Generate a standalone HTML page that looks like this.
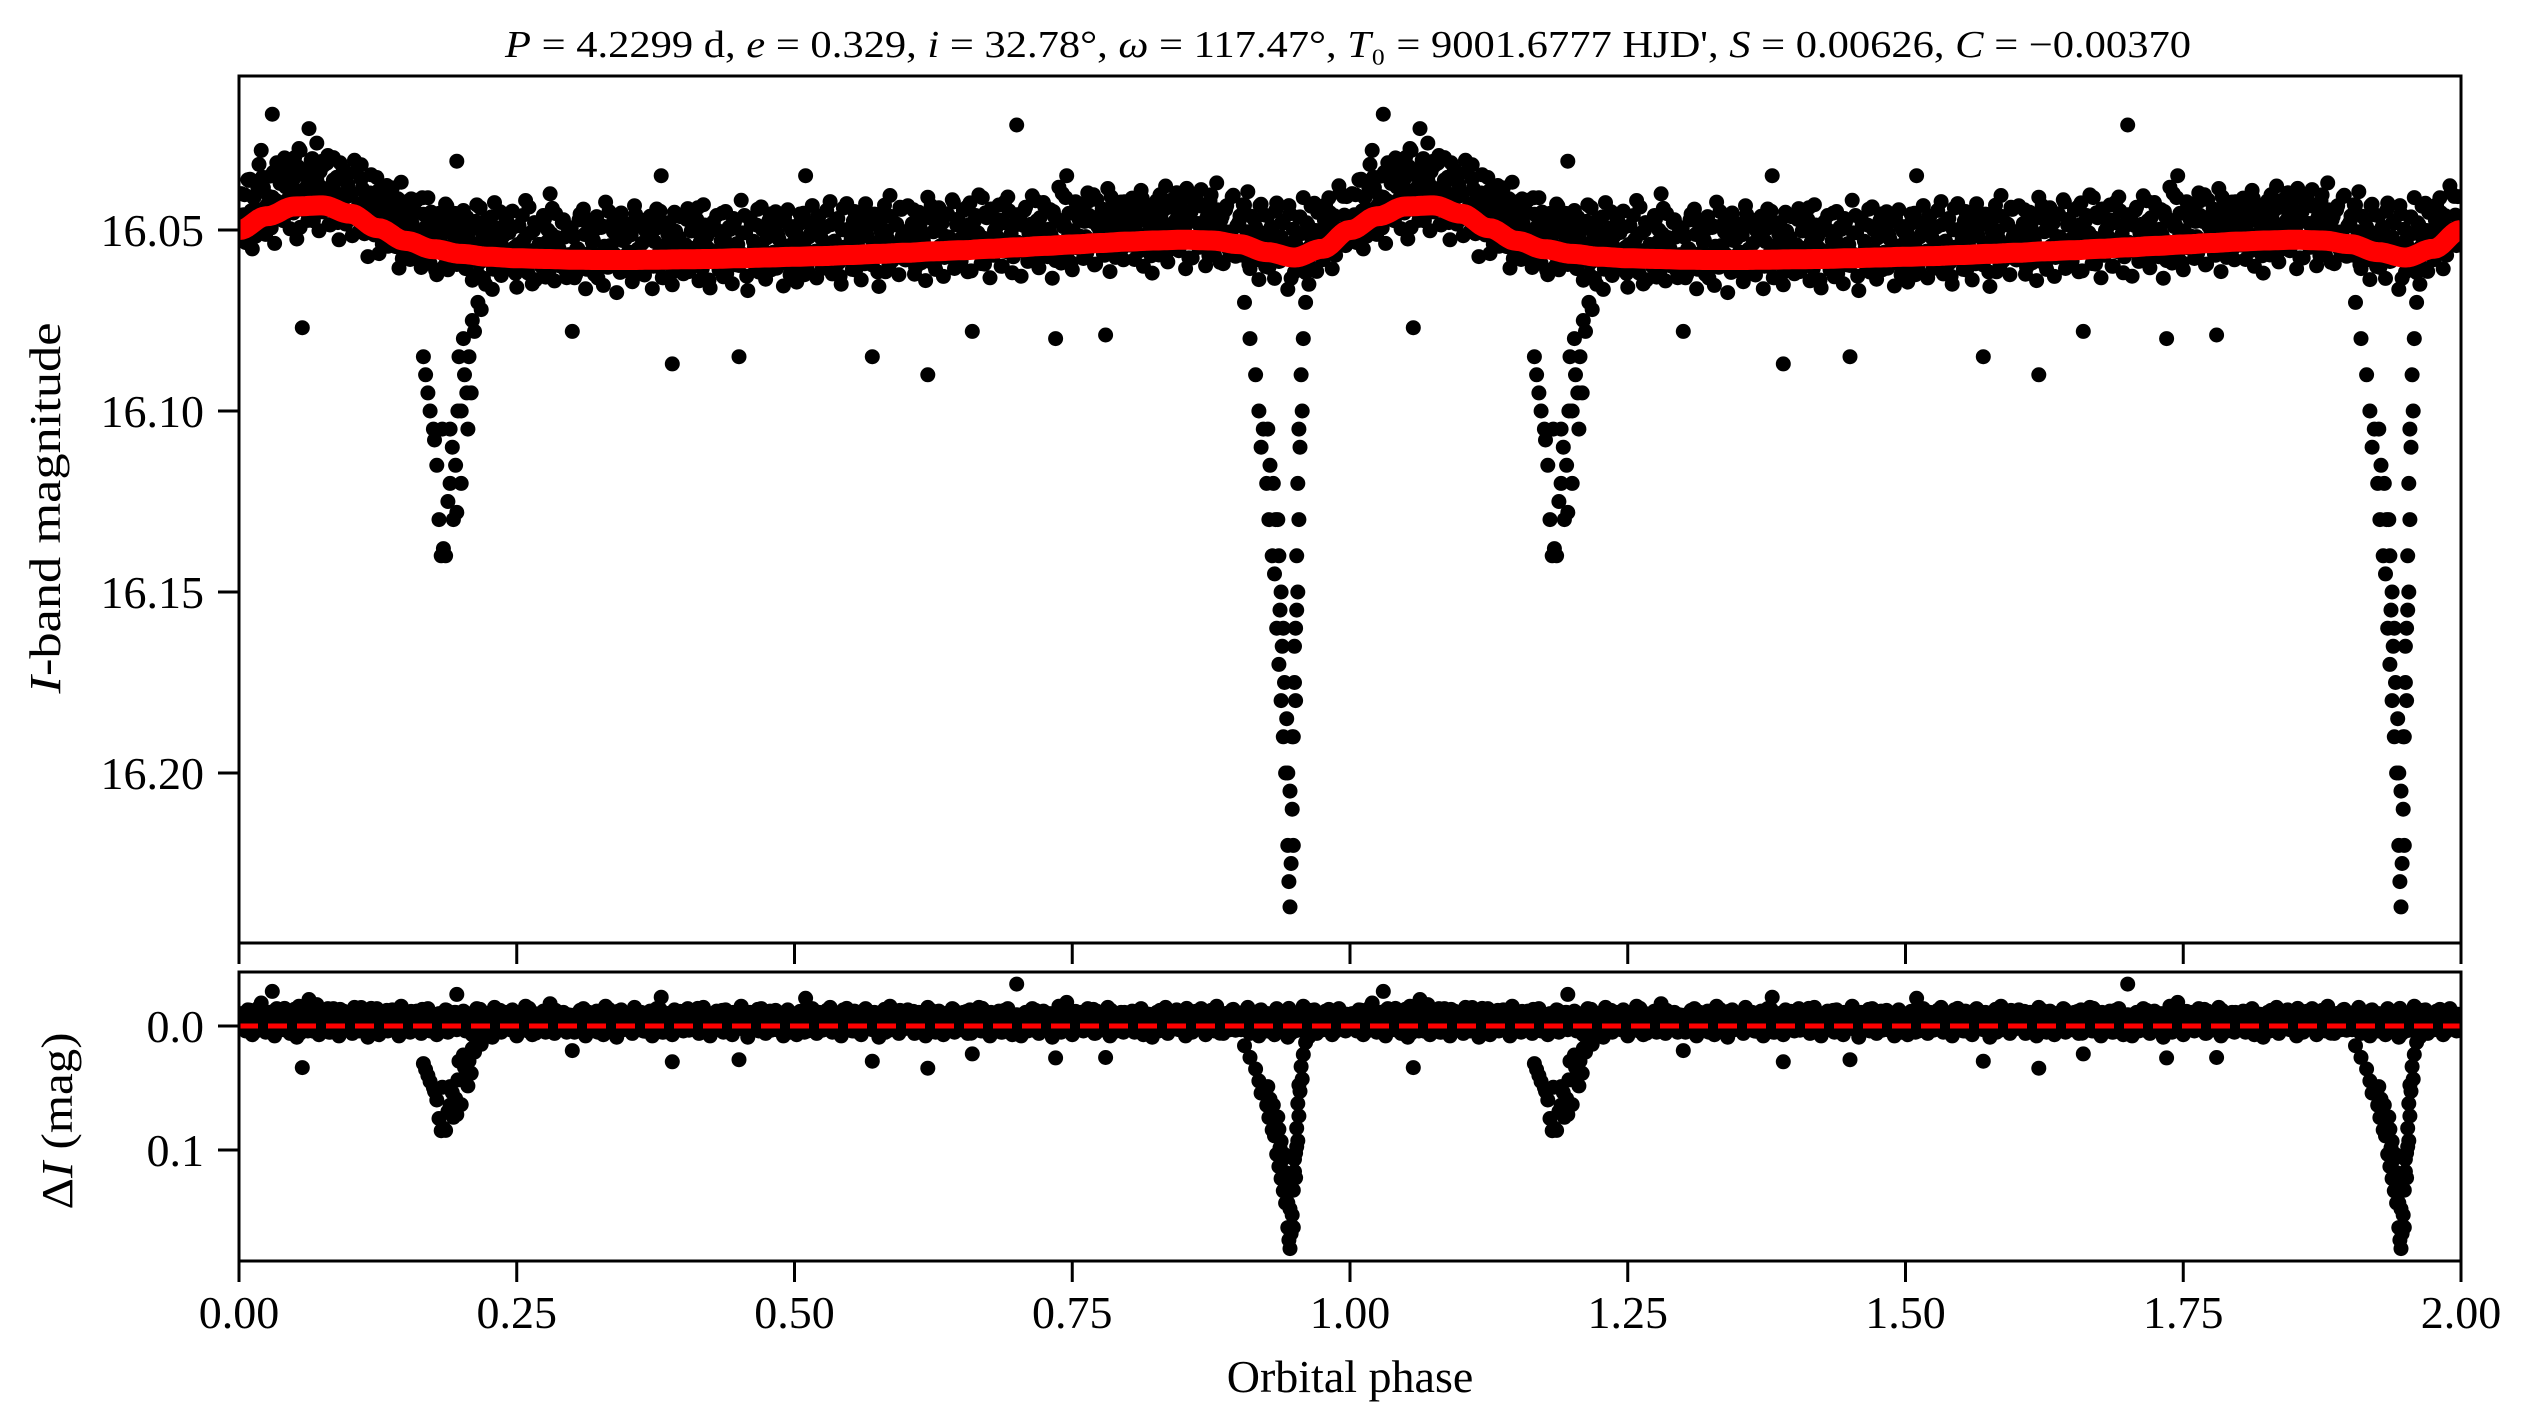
<!DOCTYPE html>
<html><head><meta charset="utf-8"><style>
html,body{margin:0;padding:0;background:#fff;}
svg{display:block;font-family:"Liberation Serif","DejaVu Serif",serif;}
</style></head><body>
<svg id="chart" xmlns="http://www.w3.org/2000/svg" width="2530" height="1428" viewBox="0 0 2530 1428">
<rect width="2530" height="1428" fill="#fff"/>
<text x="1348" y="57" font-size="38" text-anchor="middle" textLength="1686" lengthAdjust="spacingAndGlyphs"><tspan font-style="italic">P</tspan> = 4.2299 d, <tspan font-style="italic">e</tspan> = 0.329, <tspan font-style="italic">i</tspan> = 32.78°, <tspan font-style="italic">ω</tspan> = 117.47°, <tspan font-style="italic">T</tspan>₀ = 9001.6777 HJD', <tspan font-style="italic">S</tspan> = 0.00626, <tspan font-style="italic">C</tspan> = −0.00370</text>
<text transform="translate(60,508) rotate(-90)" font-size="44" text-anchor="middle" textLength="371" lengthAdjust="spacingAndGlyphs"><tspan font-style="italic">I</tspan>-band magnitude</text>
<text transform="translate(72,1121) rotate(-90)" font-size="44" text-anchor="middle" textLength="177" lengthAdjust="spacingAndGlyphs">Δ<tspan font-style="italic">I</tspan> (mag)</text>
<text x="1350" y="1392" font-size="46" text-anchor="middle">Orbital phase</text>
<g id="marks"></g>
<g id="axes"></g>
</svg>
<script>
// ---- data (one orbital cycle, repeated for phase 1-2) ----
const modelPhase = [0,0.025,0.05,0.075,0.1,0.125,0.15,0.175,0.2,0.225,0.25,0.275,0.3,0.325,0.35,0.375,0.4,0.425,0.45,0.475,0.5,0.525,0.55,0.575,0.6,0.625,0.65,0.675,0.7,0.725,0.75,0.775,0.8,0.825,0.85,0.875,0.9,0.925,0.95,0.975,1.0];
const modelMag = [16.0500,16.0462,16.0435,16.0432,16.0455,16.0495,16.0530,16.0553,16.0566,16.0574,16.0578,16.0580,16.0582,16.0583,16.0583,16.0582,16.0581,16.0580,16.0578,16.0576,16.0574,16.0572,16.0569,16.0566,16.0563,16.0559,16.0556,16.0552,16.0548,16.0544,16.0540,16.0536,16.0532,16.0529,16.0527,16.0529,16.0539,16.0561,16.0576,16.0552,16.0500];
const bandStart = 0.0, bandStep = 0.002;
const bandResidMmag = ("3 -8 -2 6 -11 1 9 -5 -1 -13 4 -6 7 0 -9 -3 10 -12 2 -7 5 -4 -10 8 -1 -6 11 -14 0 3 -8 6 -2 -11 4 -5 9 -3 -9 1 -12 7 -4 2 -7 10 -1 -10 5 -6 "+
"-3 8 -13 0 6 -9 2 -5 11 -7 -1 4 -12 9 -4 1 -8 6 -2 -11 3 -6 10 -14 0 5 -9 7 -3 -1 -10 4 8 -7 -2 -12 6 -5 1 9 -8 -3 3 -11 7 -6 0 -9 5 -4 "+
"2 -10 6 -3 -7 9 -1 -12 4 -5 8 -8 0 -2 11 -13 3 -6 7 -4 -9 1 5 -11 -1 10 -7 2 -3 -14 6 -5 9 -8 0 -2 4 -10 7 -6 1 -12 8 -4 -1 3 -9 5 -7 2 "+
"-5 7 -1 -9 3 -12 10 -6 0 -3 6 -10 2 -7 9 -14 4 -2 -8 1 11 -5 -11 5 -4 0 -7 8 -13 3 -1 -9 6 -6 2 -10 10 -3 -12 4 -8 7 -2 -5 1 9 -11 0 -4 5 "+
"6 -2 -12 4 -6 1 -9 8 -4 -13 3 -1 10 -7 0 -10 5 -3 7 -11 2 -6 9 -8 -2 4 -14 1 -5 11 -9 3 -1 -7 6 -12 0 8 -4 -10 2 -6 5 -3 -8 10 -1 -11 7 -5 "+
"-1 9 -7 3 -10 0 6 -4 -12 2 8 -9 -3 5 -6 1 -13 7 -2 -8 4 10 -11 -5 3 -1 6 -10 0 -7 9 -3 -12 2 -6 5 -9 1 11 -4 -8 7 -2 -14 4 0 -6 8 -10 3 "+
"4 -11 1 -6 8 -3 -9 5 -1 10 -13 2 -7 6 -4 -10 3 9 -2 -8 0 -12 7 -5 1 5 -9 -3 8 -11 2 -6 0 -13 6 -1 -8 4 10 -7 -3 1 -10 7 -5 3 -12 0 9 -4 "+
"-7 2 10 -4 -9 6 -1 -12 3 -5 8 -2 -10 0 5 -8 11 -6 1 -14 7 -3 -11 4 -1 9 -7 2 -5 -9 6 0 -12 3 -4 8 -10 1 -6 5 -2 -13 10 -8 0 4 -5 -9 7 -1 "+
"1 -6 -10 7 -3 4 -12 9 -8 0 -5 11 -2 -9 6 -4 2 -13 8 -1 -7 3 -11 5 0 -6 10 -3 -10 7 -8 1 4 -12 -2 9 -5 -9 2 6 -14 0 -4 8 -7 -1 5 -11 3 -3 "+
"-4 5 -9 1 -13 8 -2 -6 3 10 -11 -1 6 -8 0 -5 9 -12 4 -3 -7 2 11 -10 -2 6 -4 -9 1 -14 7 -6 3 -1 -11 8 -3 0 5 -10 2 -7 9 -5 -1 -12 4 -8 6 0").split(" ").map(Number);
const eclPhase = [0.166,0.168,0.170,0.172,0.175,0.176,0.178,0.180,0.182,0.183,0.184,0.186,0.188,0.190,0.190,0.192,0.193,0.195,0.196,0.197,0.198,0.200,0.200,0.202,0.203,0.205,0.206,0.207,0.209,0.210,0.212,0.215,0.218,0.222,
 0.905,0.910,0.915,0.918,0.920,0.922,0.925,0.926,0.927,0.928,0.930,0.931,0.932,0.933,0.934,0.935,0.936,0.936,0.937,0.938,0.938,0.939,0.940,0.940,0.941,0.942,0.943,0.944,0.944,0.945,0.946,0.946,0.947,0.948,0.948,0.949,0.949,0.950,0.950,0.951,0.951,0.952,0.952,0.953,0.953,0.954,0.954,0.955,0.956,0.957,0.958,0.960,0.963];
const eclMag = [16.085,16.090,16.095,16.100,16.105,16.108,16.115,16.130,16.140,16.105,16.138,16.140,16.125,16.120,16.105,16.110,16.130,16.115,16.128,16.100,16.085,16.120,16.100,16.080,16.090,16.095,16.105,16.085,16.095,16.075,16.078,16.070,16.072,16.065,
 16.070,16.080,16.090,16.100,16.110,16.105,16.120,16.105,16.130,16.115,16.140,16.120,16.145,16.130,16.160,16.130,16.170,16.140,16.155,16.180,16.150,16.165,16.190,16.160,16.175,16.200,16.185,16.220,16.200,16.230,16.237,16.205,16.225,16.210,16.190,16.190,16.220,16.175,16.165,16.160,16.180,16.140,16.155,16.120,16.150,16.105,16.130,16.110,16.090,16.100,16.080,16.070,16.065];
const outPhase = [0.010,0.020,0.030,0.038,0.045,0.050,0.055,0.057,0.063,0.066,0.070,0.075,0.085,0.092,0.110,0.120,0.196,0.280,0.300,0.380,0.390,0.450,0.510,0.570,0.620,0.660,0.700,0.735,0.745,0.765,0.780];
const outMag = [16.036,16.028,16.018,16.032,16.035,16.030,16.028,16.077,16.022,16.033,16.026,16.031,16.030,16.036,16.032,16.045,16.031,16.040,16.078,16.035,16.087,16.085,16.035,16.085,16.090,16.078,16.021,16.080,16.035,16.042,16.079];
const xTicks = [0,0.25,0.5,0.75,1.0,1.25,1.5,1.75,2.0];
const xTickLabels = ["0.00","0.25","0.50","0.75","1.00","1.25","1.50","1.75","2.00"];
const yTopTicks = [16.05,16.10,16.15,16.20];
const yTopLabels = ["16.05","16.10","16.15","16.20"];
const yBotTicks = [0.0,0.1];
const yBotLabels = ["0.0","0.1"];

// ---- axes functions ----
const X0=239, X1=2461;
const xs = p => X0 + p/2*(X1-X0);
const yTop = m => 230 + (m-16.05)*3620;
const yBot = r => 1026 + r*1240;
const TOP={t:76,b:943}, BOT={t:972,b:1261};
const NS="http://www.w3.org/2000/svg";
function el(tag, attrs, parent){const e=document.createElementNS(NS,tag);for(const k in attrs)e.setAttribute(k,attrs[k]);parent.appendChild(e);return e;}
function model(p){
  p = p - Math.floor(p);
  for(let i=0;i<modelPhase.length-1;i++){
    if(p>=modelPhase[i] && p<=modelPhase[i+1]){
      const t=(p-modelPhase[i])/(modelPhase[i+1]-modelPhase[i]);
      const s=(1-Math.cos(Math.PI*t))/2;
      return modelMag[i]*(1-s)+modelMag[i+1]*s;
    }
  }
  return modelMag[modelMag.length-1];
}
const marks=document.getElementById('marks');
const axes=document.getElementById('axes');

const defs=el('defs',{},marks);
const c1=el('clipPath',{id:'clipTop'},defs); el('rect',{x:X0,y:TOP.t,width:X1-X0,height:TOP.b-TOP.t},c1);
const c2=el('clipPath',{id:'clipBot'},defs); el('rect',{x:X0,y:BOT.t,width:X1-X0,height:BOT.b-BOT.t},c2);
const gTop=el('g',{'clip-path':'url(#clipTop)'},marks);


const gBot=el('g',{'clip-path':'url(#clipBot)'},marks);



// collect points: two passes over the residual list (second pass offset by half a step, read in reverse)
const pts=[];
const N=bandResidMmag.length;
for(let i=0;i<N;i++){
  const p=bandStart+i*bandStep;
  pts.push([p, model(p)+(bandResidMmag[i]-2)/1000]);
  const p2=p+bandStep/2;
  pts.push([p2, model(p2)+(bandResidMmag[N-1-i]*0.8-3)/1000]);
}
for(let i=0;i<eclPhase.length;i++) pts.push([eclPhase[i], eclMag[i]]);
for(let i=0;i<outPhase.length;i++) pts.push([outPhase[i], outMag[i]]);

for(let c=0;c<2;c++){
  for(const [p,m] of pts){
    const ph=p+c;
    const d=el('circle',{cx:xs(ph).toFixed(1),cy:yTop(m).toFixed(1),r:7.5,fill:'#000'},gTop);
    
    
    const r=el('circle',{cx:xs(ph).toFixed(1),cy:yBot(m-model(p)).toFixed(1),r:7.5,fill:'#000'},gBot);
    
    
  }
}
const zl2=el('line',{x1:X0,x2:X1,y1:yBot(0),y2:yBot(0),stroke:'#ff0000','stroke-width':5,'stroke-dasharray':'19 10'},gBot);



// model curve
let dstr='';
for(let k=0;k<=800;k++){
  const ph=k/400;
  const m=model(ph===2?1:ph);
  dstr+=(k?'L':'M')+xs(ph).toFixed(1)+','+yTop(m).toFixed(1);
}
const mc=el('path',{d:dstr,fill:'none',stroke:'#ff0000','stroke-width':20,'stroke-linejoin':'round'},gTop);



// frames
const f1=el('rect',{x:X0,y:TOP.t,width:X1-X0,height:TOP.b-TOP.t,fill:'none',stroke:'#000','stroke-width':3},axes);


const f2=el('rect',{x:X0,y:BOT.t,width:X1-X0,height:BOT.b-BOT.t,fill:'none',stroke:'#000','stroke-width':3},axes);



xTicks.forEach((v,i)=>{
  const x=xs(v);
  const t1=el('line',{x1:x,x2:x,y1:TOP.b,y2:TOP.b+21,stroke:'#000','stroke-width':3},axes);
  
  
  const t2=el('line',{x1:x,x2:x,y1:BOT.b,y2:BOT.b+21,stroke:'#000','stroke-width':3},axes);
  
  
  const lb=el('text',{x:x,y:1328,'font-size':46,'text-anchor':'middle'},axes);
  lb.textContent=xTickLabels[i];
  
  
});
yTopTicks.forEach((v,i)=>{
  const y=yTop(v);
  const t=el('line',{x1:X0-21,x2:X0,y1:y,y2:y,stroke:'#000','stroke-width':3},axes);
  
  
  const lb=el('text',{x:204,y:y+16,'font-size':46,'text-anchor':'end'},axes);
  lb.textContent=yTopLabels[i];
  
  
});
yBotTicks.forEach((v,i)=>{
  const y=yBot(v);
  const t=el('line',{x1:X0-21,x2:X0,y1:y,y2:y,stroke:'#000','stroke-width':3},axes);
  
  
  const lb=el('text',{x:204,y:y+16,'font-size':46,'text-anchor':'end'},axes);
  lb.textContent=yBotLabels[i];
  
  
});
</script>
</body></html>
